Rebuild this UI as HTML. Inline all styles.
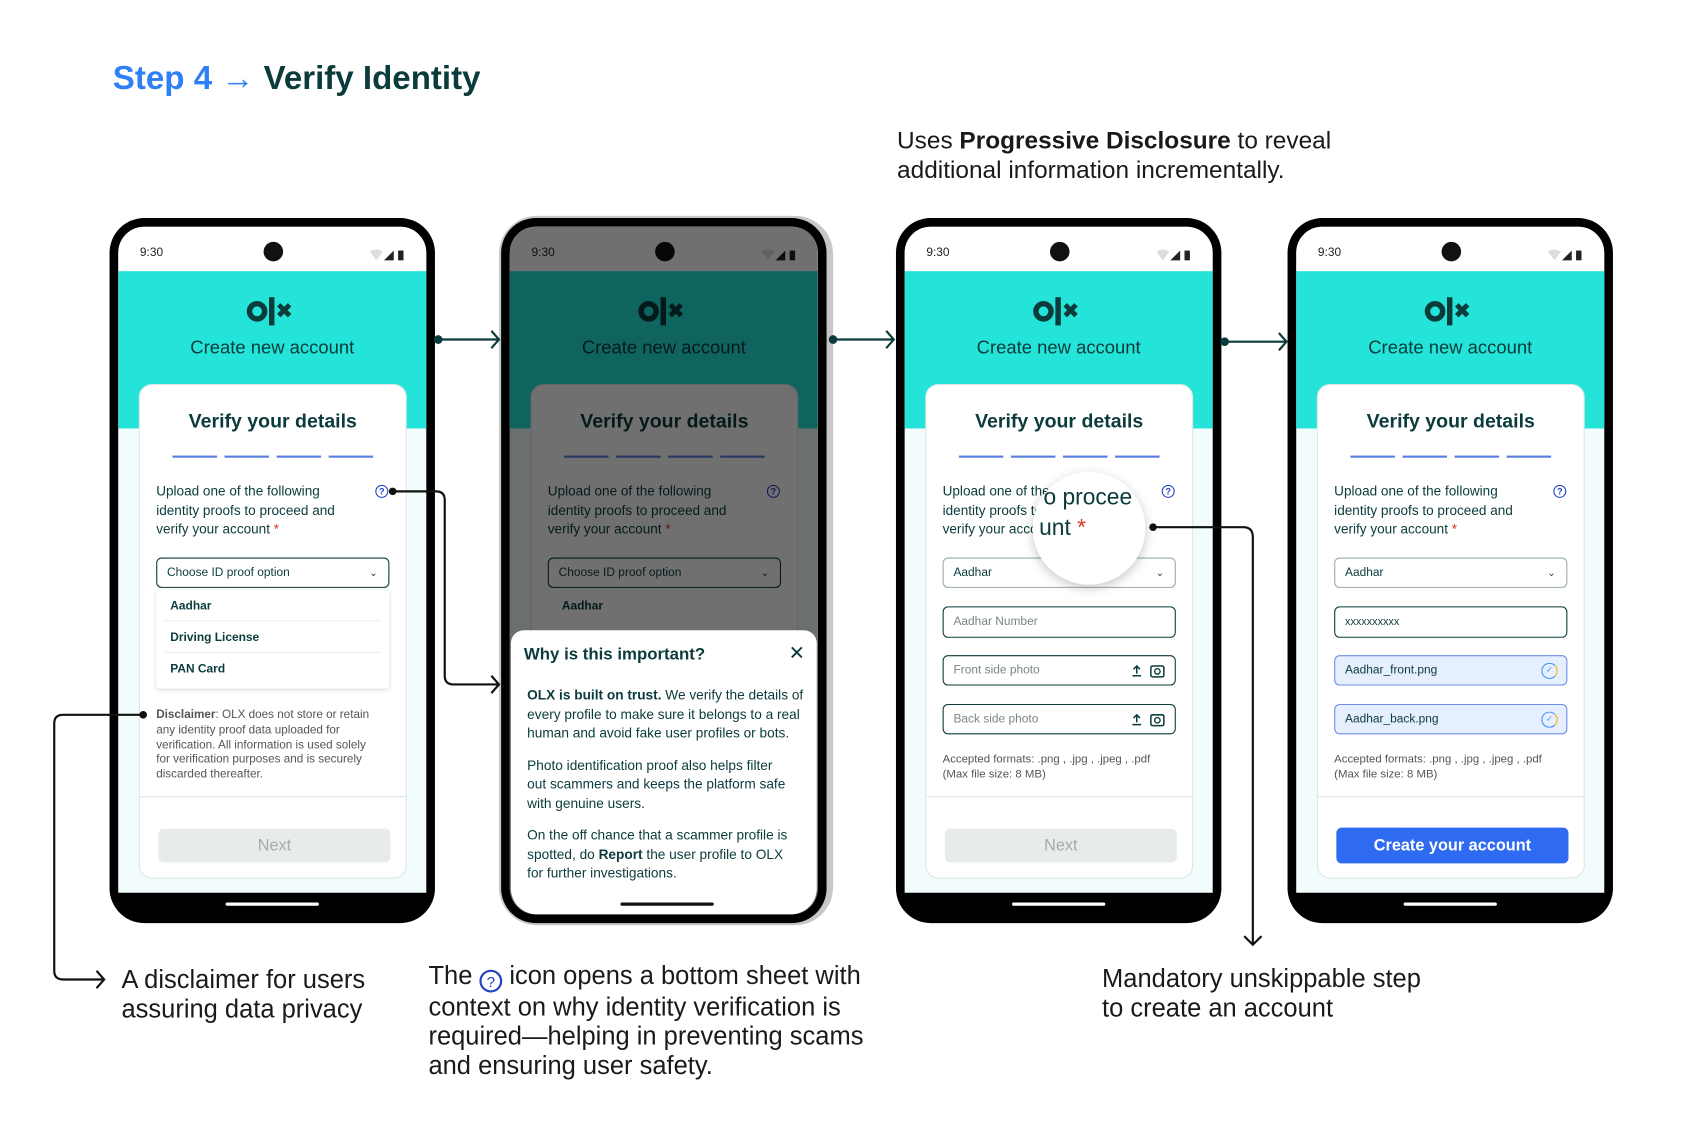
<!DOCTYPE html>
<html><head><meta charset="utf-8"><style>
*{margin:0;padding:0;box-sizing:border-box}
html,body{width:1703px;height:1139px;overflow:hidden;background:#fff}
#w{position:absolute;left:0;top:0;width:1570px;height:1050px;transform:scale(1.0847);transform-origin:0 0;font-family:"Liberation Sans",sans-serif;color:#0b3b3b}
.a{position:absolute}
.ph{position:absolute;top:201px;width:300px;height:650px;background:#000;border-radius:32px}
.scr{position:absolute;left:8px;top:8px;width:284px;height:614px;background:#f3fcfc;border-radius:24px 24px 0 0;overflow:hidden}
.sb{position:absolute;left:0;top:0;width:284px;height:41px;background:#fff}
.time{position:absolute;left:20px;top:18px;font-size:11px;color:#222}
.cam{position:absolute;left:134px;top:14px;width:18px;height:18px;border-radius:50%;background:#111}
.teal{position:absolute;left:0;top:41px;width:284px;height:145px;background:#24e3d8}
.logo{position:absolute;left:118px;top:63px}
.cna{position:absolute;left:0;width:284px;top:102px;text-align:center;font-size:17px;color:#0b3b3b}
.card{position:absolute;left:19px;top:145px;width:247px;height:456px;background:#fff;border:1px solid #dde6e6;border-radius:12px}
.vt{position:absolute;left:0;width:245px;top:23px;text-align:center;font-size:18px;font-weight:bold;color:#0b3b3b}
.dash{position:absolute;top:65px;height:2px;width:41px;background:#5b7fe0}
.up{position:absolute;left:15px;top:90px;font-size:12.5px;line-height:17.5px;color:#0b3b3b;width:210px;white-space:nowrap}
.req{color:#d32}
.help{position:absolute;left:217px;top:92px;width:12px;height:12px;border:1.3px solid #2340c4;border-radius:50%;font-size:8.5px;line-height:10px;text-align:center;color:#2340c4;font-weight:bold}
.fld{position:absolute;left:15px;width:215px;border:1px solid #0b3b3b;border-radius:5px;font-size:11px;padding-left:9px;color:#0b3b3b}
.chev{position:absolute;right:10px;top:0;font-size:9px}
.div{position:absolute;left:0;width:245px;top:379px;height:1px;background:#dde6e6}
.btn{position:absolute;left:17px;top:409px;width:214px;height:31px;border-radius:5px;background:#e7ebeb;color:#a5acac;font-size:15px;text-align:center;line-height:31px}
.hb{position:absolute;top:631px;left:107px;width:86px;height:3px;background:#fff;border-radius:2px}
.fmt{position:absolute;left:15px;top:339px;font-size:10.5px;line-height:13.5px;color:#555}
.ico{position:absolute;right:8px;top:6px}
.big{font-size:23.5px;color:#1a1a1a;line-height:27px}
</style></head><body><div id="w">

<div class="a" style="left:104px;top:55px;font-size:30.5px;font-weight:bold;white-space:nowrap"><span style="color:#2f80f5">Step 4 →</span> <span style="color:#0b3b3b">Verify Identity</span></div>
<div class="a" style="left:827px;top:116px;white-space:nowrap;line-height:27px;font-size:22.5px;color:#1a1a1a">Uses <b>Progressive Disclosure</b> to reveal<br>additional information incrementally.</div>

<!-- PHONE 1 -->
<div class="ph" style="left:101px">
<div class="scr">
<div class="sb"><div class="time">9:30</div><div class="cam"></div>
<svg class="a" style="left:232px;top:20px" width="40" height="12"><path d="M0 3 Q6 -1 12 3 L6 11Z" fill="#ddd"/><path d="M13 11 L22 2 L22 11Z" fill="#222"/><rect x="26" y="2" width="5" height="9" fill="#222"/></svg></div>
<div class="teal"></div>
<svg class="logo" width="48" height="30" viewBox="0 0 48 30"><circle cx="10" cy="15" r="7" fill="none" stroke="#0b3b3b" stroke-width="5"/><rect x="21" y="2" width="5" height="26" fill="#0b3b3b"/><path d="M30 9 L40 19 M40 9 L30 19" stroke="#0b3b3b" stroke-width="4.5"/></svg>
<div class="cna">Create new account</div>
<div class="card">
<div class="vt">Verify your details</div>
<div class="dash" style="left:30px"></div><div class="dash" style="left:78px"></div><div class="dash" style="left:126px"></div><div class="dash" style="left:174px"></div>
<div class="up">Upload one of the following<br>identity proofs to proceed and<br>verify your account <span class="req">*</span></div>
<div class="help">?</div>
<div class="fld" style="top:159px;height:28px;line-height:26px">Choose ID proof option<span class="chev">⌄</span></div>
<div class="a" style="left:15px;top:189px;width:215px;height:91px;background:#fff;box-shadow:0 1px 4px rgba(0,0,0,.15);border-radius:4px;font-size:11px;font-weight:bold;color:#0b3b3b">
<div class="a" style="left:13px;top:9px">Aadhar</div><div class="a" style="left:7px;width:200px;top:28px;height:1px;background:#eee"></div>
<div class="a" style="left:13px;top:38px">Driving License</div><div class="a" style="left:7px;width:200px;top:57px;height:1px;background:#eee"></div>
<div class="a" style="left:13px;top:67px">PAN Card</div></div>
<div class="a" style="left:15px;top:298px;width:225px;font-size:10.8px;line-height:13.8px;color:#555;white-space:nowrap"><b>Disclaimer</b>: OLX does not store or retain<br>any identity proof data uploaded for<br>verification. All information is used solely<br>for verification purposes and is securely<br>discarded thereafter.</div>
<div class="div"></div><div class="btn">Next</div>
</div></div>
<div class="hb"></div></div>

<!-- PHONE 2 -->
<div class="a" style="left:460px;top:199px;width:308px;height:654px;border-radius:35px;background:#c7c7c7"></div>
<div class="ph" style="left:462px">
<div class="scr" style="height:634px;border-radius:24px">
<div class="sb"><div class="time">9:30</div><div class="cam"></div>
<svg class="a" style="left:232px;top:20px" width="40" height="12"><path d="M0 3 Q6 -1 12 3 L6 11Z" fill="#ddd"/><path d="M13 11 L22 2 L22 11Z" fill="#222"/><rect x="26" y="2" width="5" height="9" fill="#222"/></svg></div>
<div class="teal"></div>
<svg class="logo" width="48" height="30" viewBox="0 0 48 30"><circle cx="10" cy="15" r="7" fill="none" stroke="#0b3b3b" stroke-width="5"/><rect x="21" y="2" width="5" height="26" fill="#0b3b3b"/><path d="M30 9 L40 19 M40 9 L30 19" stroke="#0b3b3b" stroke-width="4.5"/></svg>
<div class="cna">Create new account</div>
<div class="card">
<div class="vt">Verify your details</div>
<div class="dash" style="left:30px"></div><div class="dash" style="left:78px"></div><div class="dash" style="left:126px"></div><div class="dash" style="left:174px"></div>
<div class="up">Upload one of the following<br>identity proofs to proceed and<br>verify your account <span class="req">*</span></div>
<div class="help">?</div>
<div class="fld" style="top:159px;height:28px;line-height:26px">Choose ID proof option<span class="chev">⌄</span></div>
<div class="a" style="left:15px;top:189px;width:215px;height:91px;background:#fff;border-radius:4px;font-size:11px;font-weight:bold"><div class="a" style="left:13px;top:9px">Aadhar</div></div>
</div>
<div class="a" style="left:0;top:0;width:284px;height:634px;background:rgba(0,0,0,.56)"></div>
<div class="a" style="left:1px;top:372px;width:282px;height:262px;background:#fff;border-radius:12px 12px 24px 24px">
<div class="a" style="left:12px;top:14px;font-size:15.5px;font-weight:bold;color:#0b3b3b">Why is this important?</div>
<div class="a" style="left:256px;top:11px;font-size:18px;color:#0b3b3b">✕</div>
<div class="a" style="left:15px;top:52px;width:266px;font-size:12.6px;line-height:17.5px;color:#0b3b3b;white-space:nowrap"><b>OLX is built on trust.</b> We verify the details of<br>every profile to make sure it belongs to a real<br>human and avoid fake user profiles or bots.<div style="height:12px"></div>Photo identification proof also helps filter<br>out scammers and keeps the platform safe<br>with genuine users.<div style="height:12px"></div>On the off chance that a scammer profile is<br>spotted, do <b>Report</b> the user profile to OLX<br>for further investigations.</div>
<div class="a" style="left:101px;top:251px;width:86px;height:3px;background:#111;border-radius:2px"></div>
</div></div></div>

<!-- PHONE 3 -->
<div class="ph" style="left:826px">
<div class="scr">
<div class="sb"><div class="time">9:30</div><div class="cam"></div>
<svg class="a" style="left:232px;top:20px" width="40" height="12"><path d="M0 3 Q6 -1 12 3 L6 11Z" fill="#ddd"/><path d="M13 11 L22 2 L22 11Z" fill="#222"/><rect x="26" y="2" width="5" height="9" fill="#222"/></svg></div>
<div class="teal"></div>
<svg class="logo" width="48" height="30" viewBox="0 0 48 30"><circle cx="10" cy="15" r="7" fill="none" stroke="#0b3b3b" stroke-width="5"/><rect x="21" y="2" width="5" height="26" fill="#0b3b3b"/><path d="M30 9 L40 19 M40 9 L30 19" stroke="#0b3b3b" stroke-width="4.5"/></svg>
<div class="cna">Create new account</div>
<div class="card">
<div class="vt">Verify your details</div>
<div class="dash" style="left:30px"></div><div class="dash" style="left:78px"></div><div class="dash" style="left:126px"></div><div class="dash" style="left:174px"></div>
<div class="up">Upload one of the following<br>identity proofs to proceed and<br>verify your account <span class="req">*</span></div>
<div class="help">?</div>
<div class="fld" style="top:159px;height:28px;line-height:26px;border-color:#9aa">Aadhar<span class="chev">⌄</span></div>
<div class="fld" style="top:204px;height:29px;line-height:27px;color:#7a8585">Aadhar Number</div>
<div class="fld" style="top:249px;height:28px;line-height:26px;color:#7a8585">Front side photo<svg class="ico" width="32" height="14"><path d="M5 10V3M2 6L5 3L8 6M1 12H9" stroke="#0b3b3b" stroke-width="1.4" fill="none"/><rect x="18" y="3" width="12" height="10" rx="1.5" fill="none" stroke="#0b3b3b" stroke-width="1.4"/><circle cx="24" cy="8" r="2.5" fill="none" stroke="#0b3b3b" stroke-width="1.3"/></svg></div>
<div class="fld" style="top:294px;height:28px;line-height:26px;color:#7a8585">Back side photo<svg class="ico" width="32" height="14"><path d="M5 10V3M2 6L5 3L8 6M1 12H9" stroke="#0b3b3b" stroke-width="1.4" fill="none"/><rect x="18" y="3" width="12" height="10" rx="1.5" fill="none" stroke="#0b3b3b" stroke-width="1.4"/><circle cx="24" cy="8" r="2.5" fill="none" stroke="#0b3b3b" stroke-width="1.3"/></svg></div>
<div class="fmt">Accepted formats: .png , .jpg , .jpeg , .pdf<br>(Max file size: 8 MB)</div>
<div class="div"></div><div class="btn">Next</div>
</div></div>
<div class="hb"></div></div>
<div class="a" style="left:952px;top:435px;width:104px;height:104px;border-radius:50%;background:#fff;box-shadow:0 3px 10px rgba(0,0,0,.22);overflow:hidden">
<div class="a" style="left:10px;top:12px;font-size:21px;color:#0b3b3b;white-space:nowrap">o procee</div>
<div class="a" style="left:6px;top:40px;font-size:21px;color:#0b3b3b;white-space:nowrap">unt <span class="req">*</span></div></div>

<!-- PHONE 4 -->
<div class="ph" style="left:1187px">
<div class="scr">
<div class="sb"><div class="time">9:30</div><div class="cam"></div>
<svg class="a" style="left:232px;top:20px" width="40" height="12"><path d="M0 3 Q6 -1 12 3 L6 11Z" fill="#ddd"/><path d="M13 11 L22 2 L22 11Z" fill="#222"/><rect x="26" y="2" width="5" height="9" fill="#222"/></svg></div>
<div class="teal"></div>
<svg class="logo" width="48" height="30" viewBox="0 0 48 30"><circle cx="10" cy="15" r="7" fill="none" stroke="#0b3b3b" stroke-width="5"/><rect x="21" y="2" width="5" height="26" fill="#0b3b3b"/><path d="M30 9 L40 19 M40 9 L30 19" stroke="#0b3b3b" stroke-width="4.5"/></svg>
<div class="cna">Create new account</div>
<div class="card">
<div class="vt">Verify your details</div>
<div class="dash" style="left:30px"></div><div class="dash" style="left:78px"></div><div class="dash" style="left:126px"></div><div class="dash" style="left:174px"></div>
<div class="up">Upload one of the following<br>identity proofs to proceed and<br>verify your account <span class="req">*</span></div>
<div class="help">?</div>
<div class="fld" style="top:159px;height:28px;line-height:26px;border-color:#9aa">Aadhar<span class="chev">⌄</span></div>
<div class="fld" style="top:204px;height:29px;line-height:27px;font-size:10px">xxxxxxxxxx</div>
<div class="fld" style="top:249px;height:28px;line-height:26px;background:#e6efff;border-color:#6d8ee8">Aadhar_front.png<span class="a" style="right:8px;top:6px;width:15px;height:15px;border-radius:50%;border:1.5px solid #4a8ff0;border-right-color:#f5b400;font-size:8px;line-height:12px;text-align:center;color:#4a8ff0">✓</span></div>
<div class="fld" style="top:294px;height:28px;line-height:26px;background:#e6efff;border-color:#6d8ee8">Aadhar_back.png<span class="a" style="right:8px;top:6px;width:15px;height:15px;border-radius:50%;border:1.5px solid #4a8ff0;border-right-color:#f5b400;font-size:8px;line-height:12px;text-align:center;color:#4a8ff0">✓</span></div>
<div class="fmt">Accepted formats: .png , .jpg , .jpeg , .pdf<br>(Max file size: 8 MB)</div>
<div class="div"></div><div class="btn" style="background:#2f6bf0;color:#fff;font-weight:bold;top:408px;height:33px;line-height:33px">Create your account</div>
</div></div>
<div class="hb"></div></div>

<!-- connectors -->
<svg class="a" style="left:0;top:0" width="1570" height="1050" fill="none" stroke="#0b3b3b" stroke-width="2">
<circle cx="404" cy="313" r="3" fill="#0b3b3b"/><path d="M404 313H460M453 305L460 313L453 321"/>
<circle cx="768" cy="313" r="3" fill="#0b3b3b"/><path d="M768 313H824M817 305L824 313L817 321"/>
<circle cx="1129" cy="315" r="3" fill="#0b3b3b"/><path d="M1129 315H1186M1179 307L1186 315L1179 323"/>
<circle cx="362" cy="453" r="3.5" fill="#111" stroke="none"/><path d="M362 453H402Q410 453 410 461V623Q410 631 418 631H460M453 623L460 631L453 639" stroke="#111"/>
<circle cx="132" cy="659" r="3.5" fill="#111" stroke="none"/><path d="M132 659H58Q50 659 50 667V895Q50 903 58 903H96M89 895L96 903L89 911" stroke="#111"/>
<circle cx="1063" cy="486" r="3.5" fill="#111" stroke="none"/><path d="M1063 486H1146Q1155 486 1155 495V871M1147 863L1155 871L1163 863" stroke="#111"/>
</svg>

<div class="a big" style="left:112px;top:890px;white-space:nowrap">A disclaimer for users<br>assuring data privacy</div>
<div class="a big" style="left:395px;top:886px;white-space:nowrap">The <span style="display:inline-block;width:21px;height:21px;border:2px solid #2340c4;border-radius:50%;color:#2340c4;font-size:14px;line-height:18px;text-align:center;vertical-align:-3px">?</span> icon opens a bottom sheet with<br>context on why identity verification is<br>required—helping in preventing scams<br>and ensuring user safety.</div>
<div class="a big" style="left:1016px;top:889px;white-space:nowrap">Mandatory unskippable step<br>to create an account</div>

</div></body></html>
